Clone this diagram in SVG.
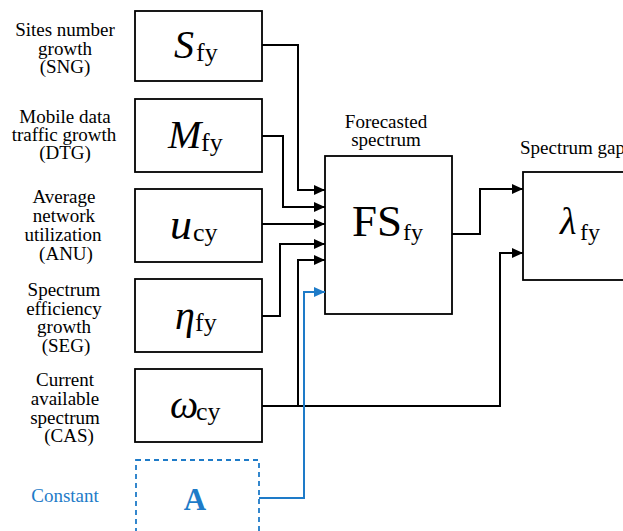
<svg xmlns="http://www.w3.org/2000/svg" width="623" height="531" viewBox="0 0 623 531">
<style>
.box{fill:#fff;stroke:#000;stroke-width:1.8}
.dbox{fill:#fff;stroke:#1e7bc8;stroke-width:1.8;stroke-dasharray:5,4}
.lab{font-family:"Liberation Serif","Times New Roman",serif;font-size:19px;fill:#000;text-anchor:middle}
.blue{fill:#1e7bc8}
.mi{font-family:"Liberation Serif","Times New Roman",serif;font-style:italic;font-size:40px;fill:#000}
.sub{font-family:"Liberation Serif","Times New Roman",serif;font-size:26px;fill:#000}
.big{font-family:"Liberation Serif","Times New Roman",serif;font-size:45px;fill:#000}
.conn path{fill:none;stroke:#000;stroke-width:2}
.conn path.b{stroke:#1e7bc8}
</style>
<defs>
<marker id="ah" markerUnits="userSpaceOnUse" markerWidth="11" markerHeight="10" refX="11" refY="5" orient="auto"><path d="M0,0 L11,5 L0,10 z" fill="#000"/></marker>
<marker id="ahb" markerUnits="userSpaceOnUse" markerWidth="11" markerHeight="10" refX="11" refY="5" orient="auto"><path d="M0,0 L11,5 L0,10 z" fill="#1e7bc8"/></marker>
</defs>
<rect width="623" height="531" fill="#fff"/>
<g id="sng">
<rect class="box" x="135" y="11" width="127" height="70"/>
<text class="lab"><tspan x="65" y="36">Sites number</tspan><tspan x="65" y="54.5">growth</tspan><tspan x="65" y="73">(SNG)</tspan></text>
<text><tspan class="mi" x="174" y="58">S</tspan><tspan class="sub" x="196" y="61">fy</tspan></text>
</g>
<g id="dtg">
<rect class="box" x="135" y="99" width="127" height="73"/>
<text class="lab"><tspan x="65" y="123">Mobile data</tspan><tspan x="64" y="141">traffic growth</tspan><tspan x="65" y="159">(DTG)</tspan></text>
<text><tspan class="mi" x="168" y="148">M</tspan><tspan class="sub" x="201" y="151">fy</tspan></text>
</g>
<g id="anu">
<rect class="box" x="135" y="189" width="127" height="73"/>
<text class="lab"><tspan x="64" y="203">Average</tspan><tspan x="64" y="222">network</tspan><tspan x="63" y="241">utilization</tspan><tspan x="66" y="260">(ANU)</tspan></text>
<text><tspan class="mi" x="170" y="239" style="font-size:44px">u</tspan><tspan class="sub" x="193" y="241">cy</tspan></text>
</g>
<g id="seg">
<rect class="box" x="135" y="279" width="127" height="73"/>
<text class="lab"><tspan x="64" y="296">Spectrum</tspan><tspan x="64" y="314.5">efficiency</tspan><tspan x="64" y="333">growth</tspan><tspan x="66" y="352">(SEG)</tspan></text>
<text><tspan class="mi" x="175" y="329">η</tspan><tspan class="sub" x="195" y="331">fy</tspan></text>
</g>
<g id="cas">
<rect class="box" x="135" y="369" width="127" height="73"/>
<text class="lab"><tspan x="65" y="386">Current</tspan><tspan x="65" y="405">available</tspan><tspan x="65" y="424">spectrum</tspan><tspan x="69" y="442">(CAS)</tspan></text>
<text><tspan class="mi" x="170" y="418">ω</tspan><tspan class="sub" x="196" y="420">cy</tspan></text>
</g>
<g id="constant">
<rect class="dbox" x="136" y="460" width="123" height="80"/>
<text class="lab blue" x="65" y="502">Constant</text>
<text x="195" y="510" style="font-family:'Liberation Serif','Times New Roman',serif;font-size:31px;font-weight:bold;text-anchor:middle" fill="#1e7bc8">A</text>
</g>
<g id="fs">
<rect class="box" x="325" y="156" width="127" height="158"/>
<text class="lab"><tspan x="386" y="128">Forecasted</tspan><tspan x="386" y="146">spectrum</tspan></text>
<text><tspan class="big" x="352" y="236">FS</tspan><tspan class="sub" x="403" y="240" style="font-size:24px">fy</tspan></text>
</g>
<g id="gap">
<rect class="box" x="523" y="172" width="110" height="108"/>
<text class="lab" x="520" y="154" style="text-anchor:start">Spectrum gap</text>
<text><tspan class="mi" x="560" y="234" style="font-size:38px">λ</tspan><tspan class="sub" x="580" y="240" style="font-size:24px">fy</tspan></text>
</g>
<g class="conn" id="connectors">
<path d="M262,45 H298 V190 H325" marker-end="url(#ah)"/>
<path d="M262,136 H283 V207 H325" marker-end="url(#ah)"/>
<path d="M262,224 H325" marker-end="url(#ah)"/>
<path d="M262,316 H280 V244 H325" marker-end="url(#ah)"/>
<path d="M262,406 H500 V253 H523" marker-end="url(#ah)"/>
<path d="M298,406 V260 H325" marker-end="url(#ah)"/>
<path d="M452,234 H480 V189 H523" marker-end="url(#ah)"/>
<path class="b" d="M259,498 H304 V292 H325" marker-end="url(#ahb)"/>
</g>
</svg>
